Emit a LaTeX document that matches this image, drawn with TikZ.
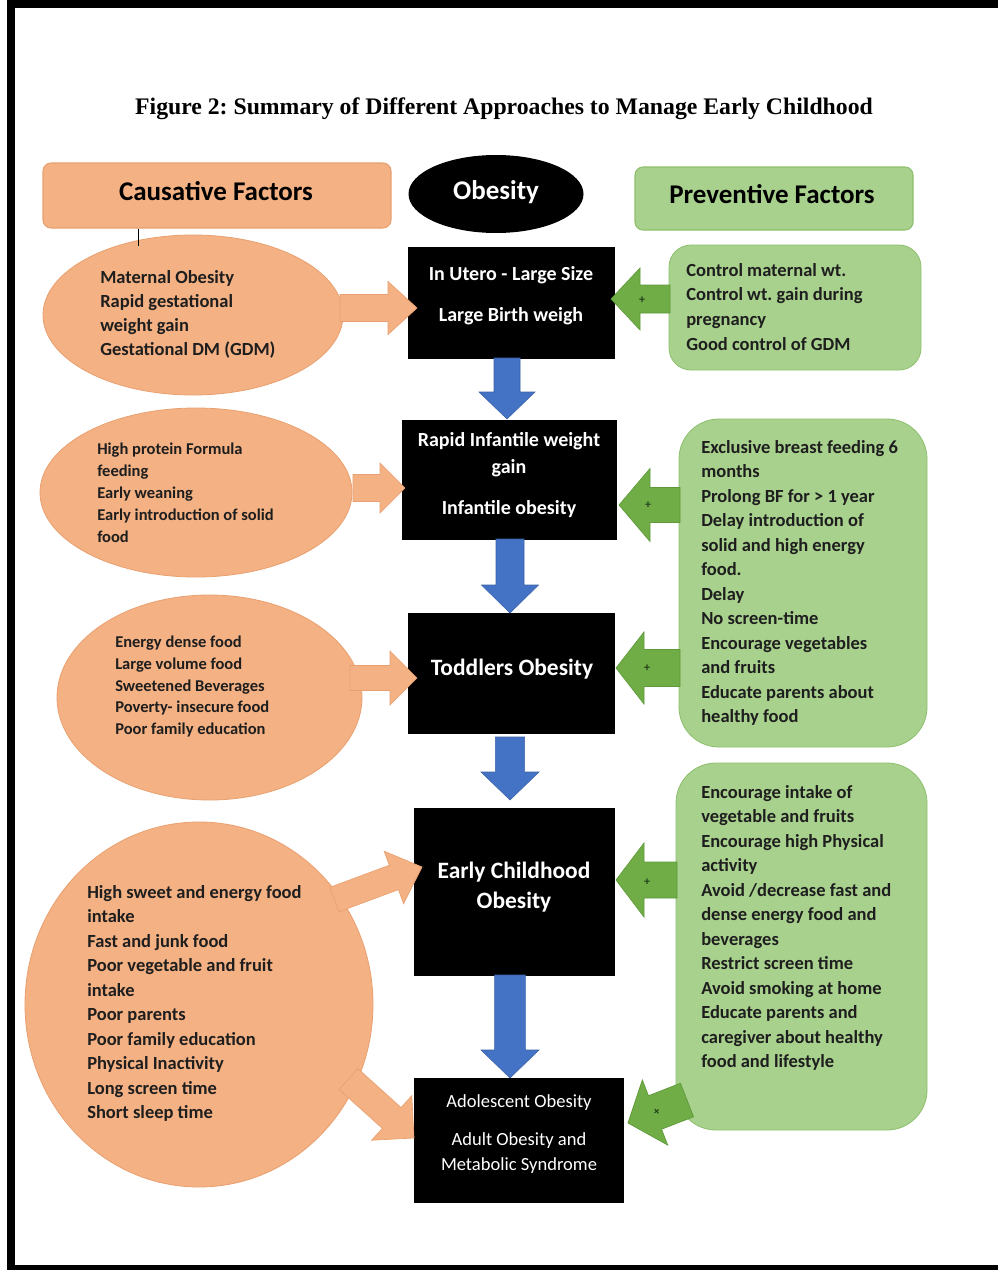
\documentclass[tikz,border=0pt]{standalone}
\usepackage{fontspec}
\setmainfont{Carlito}
\newfontfamily\titlefont{Liberation Serif}
\usetikzlibrary{calc,shapes.geometric}
\frenchspacing
\definecolor{salmonF}{HTML}{F4B183}
\definecolor{salmonD}{HTML}{E9A070}
\definecolor{greenF}{HTML}{A9D18E}
\definecolor{greenD}{HTML}{8CBF6C}
\definecolor{greenA}{HTML}{70AD47}
\definecolor{greenAD}{HTML}{5E9A3A}
\definecolor{blueA}{HTML}{4472C4}
\definecolor{txt}{HTML}{1E1E1E}
\definecolor{plusC}{HTML}{22401A}
% block arrow: style, start, tip, shaft half, head half, head length
\newcommand\blockarr[6]{%
  \coordinate (ba-h) at ($(#3)!#6!(#2)$);
  \path[#1] ($(#2)!#4!90:(#3)$) -- ($(ba-h)!#4!-90:(#2)$) -- ($(ba-h)!#5!-90:(#2)$) -- (#3)
    -- ($(ba-h)!#5!90:(#2)$) -- ($(ba-h)!#4!90:(#2)$) -- ($(#2)!#4!-90:(#3)$) -- cycle;
}
\begin{document}
\begin{tikzpicture}[x=0.75pt,y=-0.75pt,
  blackbox/.style={fill=black, draw=black, inner sep=0},
  salmell/.style={ellipse, fill=salmonF, draw=salmonD, line width=0.6pt, inner sep=0},
  greenbox/.style={fill=greenF, draw=greenD, line width=0.6pt, inner sep=0},
  sarrow/.style={fill=salmonF, draw=salmonD, line width=0.5pt},
  garrow/.style={fill=greenA, draw=greenAD, line width=0.5pt},
  barrow/.style={fill=blueA, draw=blueA!85!black, line width=0.4pt},
  hdr/.style={font=\fontsize{20.25}{24}\selectfont\bfseries, anchor=base, inner sep=0},
  wmid/.style={text=white, font=\fontsize{15}{18}\selectfont\bfseries, anchor=base, inner sep=0},
  wbig/.style={text=white, font=\fontsize{17.6}{21}\selectfont\bfseries, anchor=base, inner sep=0},
  wreg/.style={text=white, font=\fontsize{13.9}{17}\selectfont, anchor=base, inner sep=0},
  blk/.style={anchor=north west, inner sep=0, align=left, text=txt},
  plus/.style={font=\fontsize{9}{9}\selectfont\bfseries, text=plusC, inner sep=0},
]
\useasboundingbox (0,0) rectangle (998,1270);
\fill[white] (0,0) rectangle (998,1270);
% frame
\fill[black] (7,0) rectangle (998,8);
\fill[black] (7,0) rectangle (15,1270);
\fill[black] (7,1265) rectangle (998,1270);

% title
\node[anchor=base, inner sep=0, font=\titlefont\fontsize{17.8}{20}\selectfont\bfseries] (title) at (504,114)
  {Figure 2: Summary of Different Approaches to Manage Early Childhood};

% headers
\node[rounded corners=6pt, fill=salmonF, draw=salmonD, line width=0.8pt, minimum width=261pt, minimum height=48.75pt, inner sep=0] (caus) at (217,195.5) {};
\node[hdr] (caust) at (216,200) {Causative Factors};
\node[ellipse, fill=black, minimum width=131.25pt, minimum height=58.5pt, inner sep=0] (obes) at (496,194) {};
\node[hdr, text=white] (obest) at (496,199) {Obesity};
\node[rounded corners=6pt, fill=greenF, draw=greenD, line width=0.8pt, minimum width=208.5pt, minimum height=47.25pt, inner sep=0] (prev) at (774,198.5) {};
\node[hdr] (prevt) at (772,203) {Preventive Factors};

% salmon ellipses
\node[salmell, minimum width=225pt, minimum height=120pt] (e1) at (193,315) {};
\node[salmell, minimum width=234pt, minimum height=126.75pt] (e2) at (196,492.5) {};
\node[salmell, minimum width=228.75pt, minimum height=153.75pt] (e3) at (209.5,697.5) {};
\node[salmell, minimum width=261pt, minimum height=273.75pt] (e4) at (199,1004.5) {};

% line from causative header
\coordinate (cline) at (138,246);
\draw[black, line width=0.7pt] (caus.south -| cline) -- (cline);

% black boxes
\node[blackbox, minimum width=154.5pt, minimum height=83.25pt] (b1) at (511,302.5) {};
\node[blackbox, minimum width=160.5pt, minimum height=89.25pt] (b2) at (509,479.5) {};
\node[blackbox, minimum width=154.5pt, minimum height=90pt] (b3) at (511,673) {};
\node[blackbox, minimum width=150pt, minimum height=125.25pt] (b4) at (514,891.5) {};
\node[blackbox, minimum width=156.75pt, minimum height=93pt] (b5) at (518.5,1140) {};

% green boxes
\node[greenbox, rounded corners=16.5pt, minimum width=189pt, minimum height=93.75pt] (g1) at (795,307.5) {};
\node[greenbox, rounded corners=30pt, minimum width=186pt, minimum height=246pt] (g2) at (803,583) {};
\node[greenbox, rounded corners=30pt, minimum width=188.25pt, minimum height=275.25pt] (g3) at (801.5,946.5) {};

% arrow coordinates
\coordinate (sa1s) at (340,308); \coordinate (sa1t) at (417,308);
\coordinate (sa2s) at (353,488); \coordinate (sa2t) at (405,488);
\coordinate (sa3s) at (350,678); \coordinate (sa3t) at (417,678);
\coordinate (sa4s) at (334.5,899.5); \coordinate (sa4t) at (422,867);
\coordinate (sa5s) at (348.5,1079); \coordinate (sa5t) at (414,1138);
\coordinate (ga1s) at (670,299); \coordinate (ga1t) at (611,299);
\coordinate (ga2s) at (680,505); \coordinate (ga2t) at (619,505);
\coordinate (ga3s) at (680,668); \coordinate (ga3t) at (616,668);
\coordinate (ga4s) at (677,880); \coordinate (ga4t) at (616,880);
\coordinate (ga5s) at (687,1100); \coordinate (ga5t) at (628,1123);
\coordinate (ba1s) at (507,358); \coordinate (ba1t) at (507,419);
\coordinate (ba2s) at (510,539); \coordinate (ba2t) at (510,613);
\coordinate (ba3s) at (510,737); \coordinate (ba3t) at (510,800);
\coordinate (ba4s) at (510,975); \coordinate (ba4t) at (510,1078);

% salmon arrows
\blockarr{sarrow}{sa1s}{sa1t}{10.1pt}{19.9pt}{21.75pt}
\blockarr{sarrow}{sa2s}{sa2t}{10.1pt}{18.75pt}{18.75pt}
\blockarr{sarrow}{sa3s}{sa3t}{9.4pt}{20.25pt}{20.25pt}
\blockarr{sarrow}{sa4s}{sa4t}{9.75pt}{21pt}{22.5pt}
\blockarr{sarrow}{sa5s}{sa5t}{10.5pt}{22.5pt}{22.5pt}
% green arrows
\blockarr{garrow}{ga1s}{ga1t}{10.5pt}{23.25pt}{21.75pt}
\blockarr{garrow}{ga2s}{ga2t}{13.1pt}{27.4pt}{23.25pt}
\blockarr{garrow}{ga3s}{ga3t}{13.9pt}{27pt}{21pt}
\blockarr{garrow}{ga4s}{ga4t}{13.5pt}{27.75pt}{21pt}
\blockarr{garrow}{ga5s}{ga5t}{13.5pt}{26.25pt}{21.75pt}
% blue arrows
\blockarr{barrow}{ba1s}{ba1t}{9.75pt}{21pt}{20.25pt}
\blockarr{barrow}{ba2s}{ba2t}{10.5pt}{21.4pt}{21pt}
\blockarr{barrow}{ba3s}{ba3t}{10.9pt}{21.75pt}{21pt}
\blockarr{barrow}{ba4s}{ba4t}{11.6pt}{21.75pt}{21pt}

% plus marks
\node[plus] (p1) at (642,300) {+};
\node[plus] (p2) at (648,505) {+};
\node[plus] (p3) at (647,668) {+};
\node[plus] (p4) at (647,882) {+};
\node[plus, rotate=40] (p5) at (657,1112) {+};

% black box texts
\node[wmid] (b1a) at (511,280) {In Utero - Large Size};
\node[wmid] (b1b) at (511,321) {Large Birth weigh};
\node[wmid] (b2a) at (509,446.5) {Rapid Infantile weight};
\node[wmid] (b2b) at (509,473.5) {gain};
\node[wmid] (b2c) at (509,514.5) {Infantile obesity};
\node[wbig] (b3a) at (512,675) {Toddlers Obesity};
\node[wbig] (b4a) at (514,878) {Early Childhood};
\node[wbig] (b4b) at (514,908) {Obesity};
\node[wreg] (b5a) at (519,1107) {Adolescent Obesity};
\node[wreg] (b5b) at (519,1145) {Adult Obesity and};
\node[wreg] (b5c) at (519,1170) {Metabolic Syndrome};

% causative texts
\node[blk, font=\fontsize{13.875}{18}\selectfont\bfseries] (e1t) at (100,266.2)
  {\strut Maternal Obesity\\Rapid gestational\\weight gain\\Gestational DM (GDM)};
\node[blk, font=\fontsize{12.375}{16.5}\selectfont\bfseries] (e2t) at (97,438.9)
  {\strut High protein Formula\\feeding\\Early weaning\\Early introduction of solid\\food};
\node[blk, font=\fontsize{12.375}{16.3}\selectfont\bfseries] (e3t) at (115,632.1)
  {\strut Energy dense food\\Large volume food\\Sweetened Beverages\\Poverty- insecure food\\Poor family education};
\node[blk, font=\fontsize{13.875}{18.375}\selectfont\bfseries] (e4t) at (87,880.85)
  {\strut High sweet and energy food\\intake\\Fast and junk food\\Poor vegetable and fruit\\intake\\Poor parents\\Poor family education\\Physical Inactivity\\Long screen time\\Short sleep time};

% preventive texts
\node[blk, font=\fontsize{13.875}{18.5}\selectfont\bfseries] (g1t) at (686,258.7)
  {\strut Control maternal wt.\\Control wt. gain during\\pregnancy\\Good control of GDM};
\node[blk, font=\fontsize{13.875}{18.375}\selectfont\bfseries] (g2t) at (701,435.85)
  {\strut Exclusive breast feeding 6\\months\\Prolong BF for > 1 year\\Delay introduction of\\solid and high energy\\food.\\Delay\\No screen-time\\Encourage vegetables\\and fruits\\Educate parents about\\healthy food};
\node[blk, font=\fontsize{13.875}{18.375}\selectfont\bfseries] (g3t) at (701,780.85)
  {\strut Encourage intake of\\vegetable and fruits\\Encourage high Physical\\activity\\Avoid /decrease fast and\\dense energy food and\\beverages\\Restrict screen time\\Avoid smoking at home\\Educate parents and\\caregiver about healthy\\food and lifestyle};
\end{tikzpicture}
\end{document}
